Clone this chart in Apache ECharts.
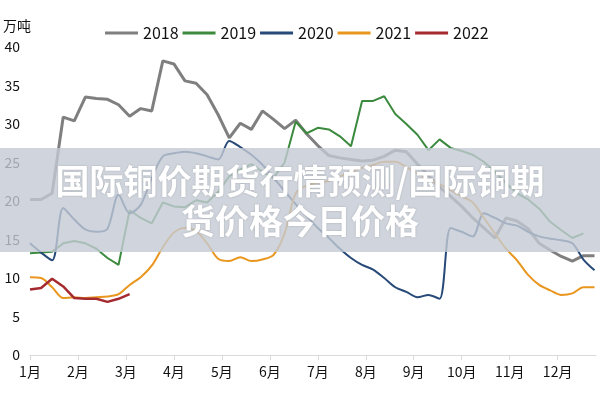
<!DOCTYPE html>
<html>
<head>
<meta charset="utf-8">
<script src="https://cdn.jsdelivr.net/npm/echarts@6/dist/echarts.min.js"></script>
<style>
  html, body { margin: 0; padding: 0; background: #fff; }
  #chart { width: 600px; height: 400px; }
</style>
</head>
<body>
<div id="chart"></div>
<script>
// weekly stock, 万吨 (52 weeks per year)
const years = ["2018", "2019", "2020", "2021", "2022"];
const months = ["1月", "2月", "3月", "4月", "5月", "6月", "7月", "8月", "9月", "10月", "11月", "12月"];

const data2018 = [20.2, 20.2, 21, 30.9, 30.4, 33.5, 33.3, 33.2, 32.5, 31, 32, 31.7,
  38.2, 37.8, 35.6, 35.3, 33.8, 31.2, 28.2, 30.1, 29.3, 31.7, 30.6, 29.4, 30.5, 28.7,
  27.2, 25.9, 25.6, 25.4, 25.2, 25.3, 25.8, 26.6, 26.4, 24.8, 23.3, 21.8, 20.6, 19.3,
  17.8, 16.5, 15.2, 17.8, 17.4, 16.4, 14.5, 13.6, 12.8, 12.2, 12.9, 12.9];
const data2019 = [13.2, 13.3, 13.4, 14.5, 14.8, 14.5, 13.8, 12.6, 11.7, 18.8, 17.8, 17.1,
  19.8, 19.3, 19.2, 20.1, 19.8, 21.2, 23.2, 24.1, 24.8, 23.8, 23, 25, 30.3, 28.8,
  29.5, 29.3, 28.4, 27.1, 33.0, 33.0, 33.6, 31.3, 30, 28.6, 26.6, 28, 26.9, 26.5,
  26, 25.1, 23.8, 22.3, 21, 20.2, 19, 17.3, 16.2, 15.2, 15.8, null];
const data2020 = [14.5, 13.3, 12.3, 19.1, 17.6, 16.3, 16.0, 16.4, 20.8, 18.4, 19.5, 23,
  25.8, 26.2, 26.4, 26.2, 25.8, 25.4, 27.8, 27, 26, 24.7, 23, 21.3, 19.6, 18,
  16.5, 15.2, 13.8, 12.6, 11.7, 11.1, 10, 8.8, 8.2, 7.5, 7.8, 7.3, 16.5, 16,
  15.4, 18.4, 17.8, 17.1, 16.8, 16, 15.4, 15.1, 14.9, 14.5, 12.4, 11.0];
const data2021 = [10.1, 10.0, 8.8, 7.4, 7.5, 7.4, 7.5, 7.6, 7.9, 9.1, 10.1, 11.6,
  14, 15.9, 16.5, 16.1, 14.5, 12.5, 12.2, 12.7, 12.2, 12.4, 13.0, 15.8, 21.0, 22.0,
  22.4, 22.6, 23.2, 23.8, 24.3, 24.7, 25.1, 25.1, 24.4, 23.6, 22.8, 22.2, 21.4, 20.6,
  19.8, 17.8, 15.8, 13.8, 12.3, 10.4, 9.1, 8.4, 7.8, 8.0, 8.8, 8.8];
const data2022 = [8.5, 8.7, 9.9, 8.9, 7.4, 7.3, 7.3, 6.9, 7.3, 7.9];

const colors = ["#7f7f7f", "#3b8a3e", "#274a78", "#e9961f", "#a52a30"];
const widths = [3, 2, 2, 2, 2.5];
const smooths = [false, false, 0.3, 0.3, false];

const titleText = "国际铜价期货行情预测/国际铜期\n货价格今日价格";

// week index -> position on the month axis
function toPoints(arr) {
  return arr.map((v, i) => [i * 12 / 52, v]);
}

const allData = [data2018, data2019, data2020, data2021, data2022];
const font = '"Noto Sans CJK SC", sans-serif';

const myChart = echarts.init(document.getElementById("chart"));
const option = {
  animation: false,
  textStyle: { fontFamily: font },
  legend: {
    top: 20,
    left: 100,
    itemWidth: 33,
    itemHeight: 3,
    itemGap: 4,
    icon: "rect",
    data: years,
    textStyle: { fontSize: 16, color: "#111", fontFamily: font },
  },
  grid: { left: 27, right: 4, top: 47, bottom: 45 },
  xAxis: {
    type: "value",
    min: 0,
    max: 11.8,
    interval: 1,
    axisLine: { show: true, lineStyle: { color: "#d9d9d9", width: 1 } },
    axisTick: { show: true, length: 5, lineStyle: { color: "#d9d9d9" } },
    splitLine: { show: false },
    axisLabel: {
      color: "#111",
      fontSize: 14,
      margin: 10,
      showMaxLabel: false,
      formatter: (v) => months[Math.round(v)] || "",
    },
  },
  yAxis: {
    type: "value",
    min: 0,
    max: 40,
    interval: 5,
    name: "万吨",
    nameLocation: "end",
    nameGap: 14,
    nameTextStyle: { color: "#111", fontSize: 14, align: "left", padding: [0, 0, 0, -27] },
    axisLine: { show: false },
    axisTick: { show: false },
    splitLine: { show: false },
    axisLabel: { color: "#111", fontSize: 14, margin: 10 },
  },
  series: years.map((y, k) => ({
    name: y,
    type: "line",
    data: toPoints(allData[k]),
    symbol: "none",
    smooth: smooths[k],
    connectNulls: false,
    z: 2 + k,
    itemStyle: { color: colors[k] },
    lineStyle: { color: colors[k], width: widths[k] },
  })),
  graphic: [
    {
      type: "rect",
      z: 100,
      shape: { x: 0, y: 148, width: 600, height: 104 },
      style: { fill: "rgba(196,202,212,0.8)" },
    },
    {
      type: "text",
      z: 101,
      x: 300,
      y: 161,
      style: {
        text: titleText,
        fill: "#fff",
        font: 'bold 34px "Noto Sans CJK SC", sans-serif',
        textAlign: "center",
        lineHeight: 40,
        textShadowColor: "rgba(80,80,80,0.35)",
        textShadowBlur: 2,
      },
    },
  ],
};
option && myChart.setOption(option);
</script>
</body>
</html>
